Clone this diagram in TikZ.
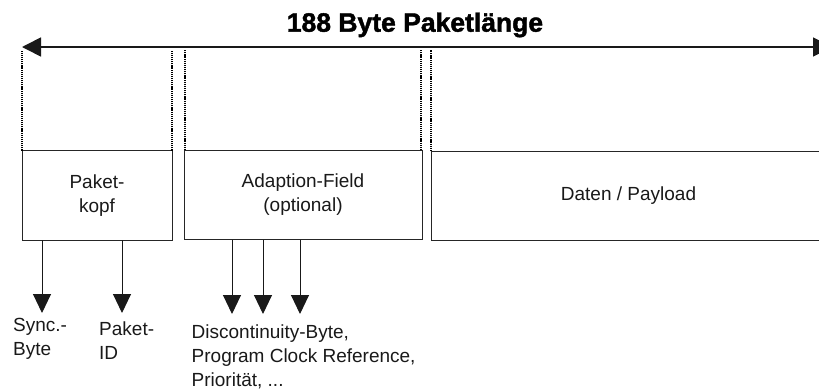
\documentclass[tikz,border=0pt]{standalone}
\usepackage{fontspec}
\setmainfont{Liberation Sans}
\newfontfamily\headfont[FakeBold=1.6]{Liberation Sans Bold}
\usetikzlibrary{arrows.meta}
\begin{document}
\begin{tikzpicture}[x=1pt,y=-1pt,
  every node/.style={font=\fontsize{19}{24}\selectfont, text=black!90},
  field/.style={draw=black!85, line width=1pt, inner sep=0pt, outer sep=0pt, align=center},
  guide/.style={draw=black, line width=1.8pt, dash pattern=on 1.2pt off 0.9pt},
  span/.style={draw=black!90, line width=1.6pt,
    {Triangle[width=19pt,length=19pt]}-{Triangle[width=19pt,length=19pt]}},
  down/.style={draw=black!90, line width=1pt, -{Triangle[width=18pt,length=19pt]}},
  caption/.style={anchor=north west, inner sep=0pt, align=left}]
\useasboundingbox (0,0) rectangle (819,391);
\clip (0,0) rectangle (819,391);

% title and overall length
\node[font=\fontsize{26.5}{30}\selectfont\headfont, text=black, anchor=base] (title) at (415,31.7) {188 Byte Paketlänge};
\coordinate (spanL) at (22,47);
\coordinate (spanR) at (832,47);
\draw[span] (spanL) -- (spanR);

% packet fields
\node[field, minimum width=150pt, minimum height=89.5pt] (kopf) at (97,195.3) {Paket-\\kopf};
\node[field, minimum width=238pt, minimum height=89.5pt] (adapt) at (303,194.8) {Adaption-Field\\(optional)};
\node[field, minimum width=395pt, minimum height=89pt] (daten) at (628.5,195.5) {Daten / Payload};

% dotted guides up to the length arrow
\coordinate (top) at (0,50);
\draw[guide] (kopf.north west) -- (kopf.north west |- top);
\draw[guide] (kopf.north east) -- (kopf.north east |- top);
\draw[guide] ([xshift=1pt]adapt.north west) -- ([xshift=1pt]adapt.north west |- top);
\draw[guide] ([xshift=-1pt]adapt.north east) -- ([xshift=-1pt]adapt.north east |- top);
\draw[guide] (daten.north west) -- (daten.north west |- top);

% sub-field captions
\node[caption] (sync) at (13,318) {Sync.-\\Byte};
\node[caption] (pid) at (99,322) {Paket-\\ID};
\node[caption] (misc) at (191.5,325) {Discontinuity-Byte,\\Program Clock Reference,\\Priorität, ...};

% arrows to the sub-fields
\coordinate (t1) at (42,313);
\coordinate (t2) at (122,313);
\coordinate (t3) at (232,314);
\coordinate (t4) at (263,314);
\coordinate (t5) at (300,314);
\draw[down] (kopf.south -| t1) -- (t1);
\draw[down] (kopf.south -| t2) -- (t2);
\draw[down] (adapt.south -| t3) -- (t3);
\draw[down] (adapt.south -| t4) -- (t4);
\draw[down] (adapt.south -| t5) -- (t5);
\end{tikzpicture}
\end{document}
